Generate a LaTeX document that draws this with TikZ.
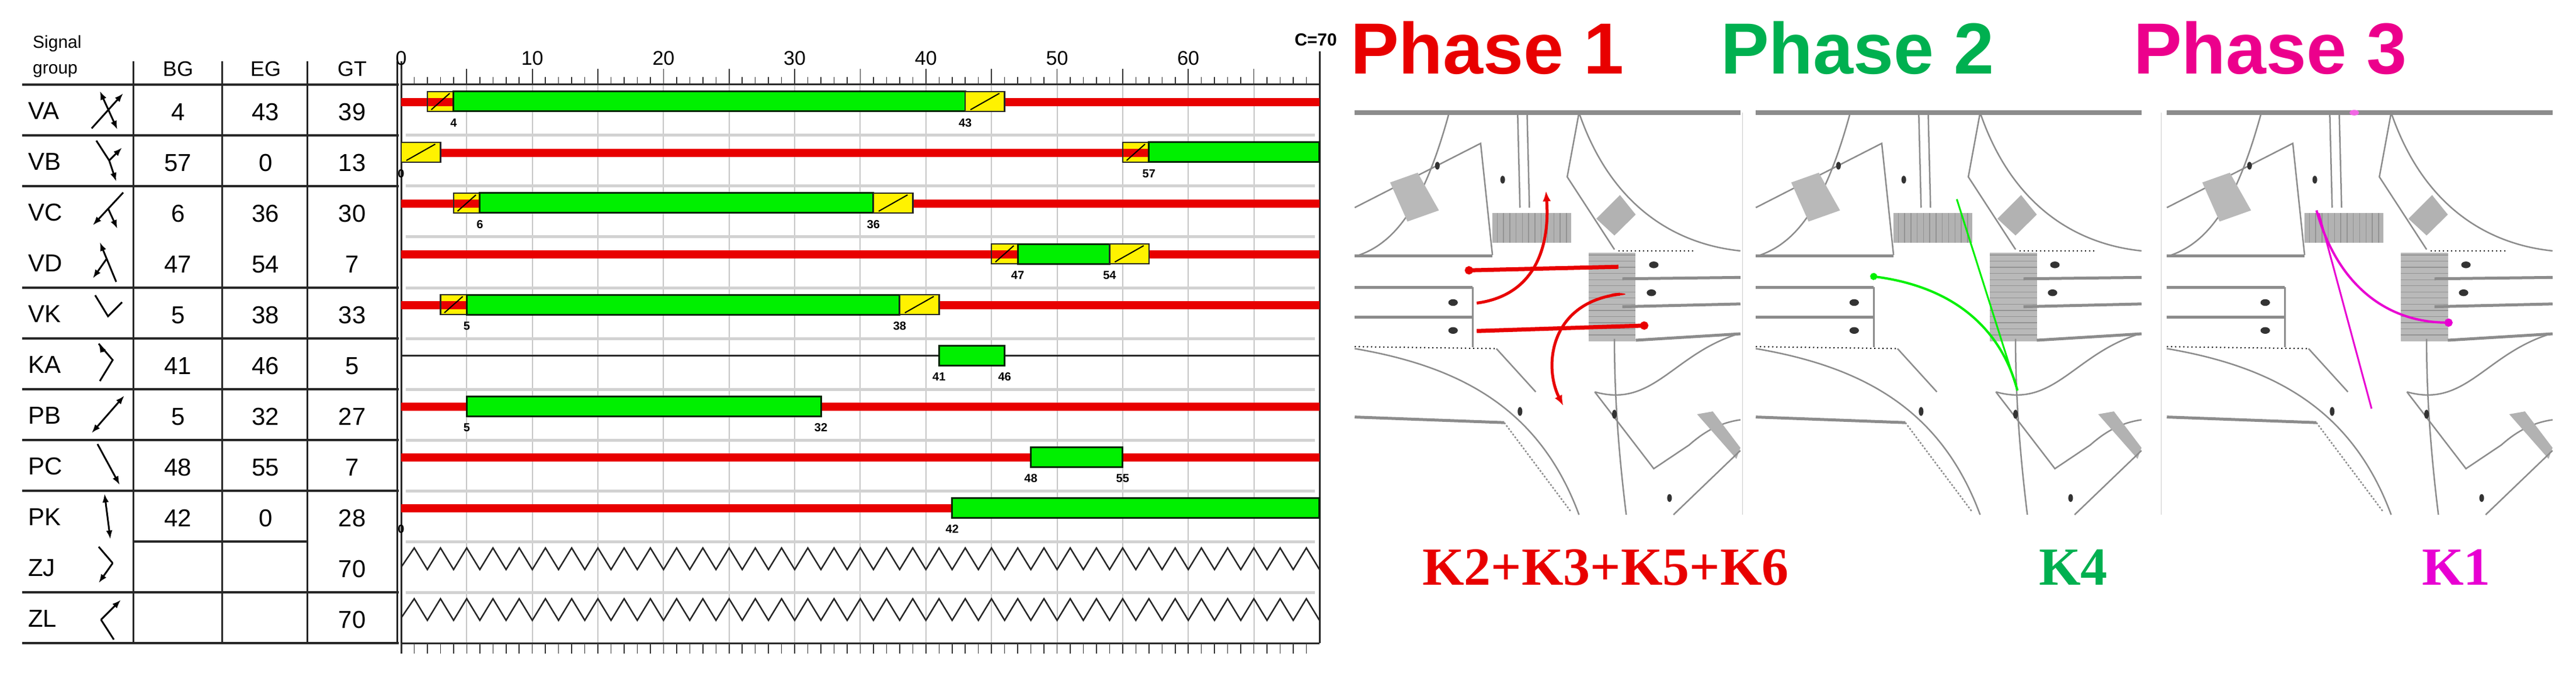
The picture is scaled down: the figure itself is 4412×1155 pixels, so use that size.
\documentclass[tikz,border=0pt]{standalone}
\usepackage{fontspec}
\setmainfont{Liberation Sans}
\newfontfamily\serifb{Liberation Serif}
\usetikzlibrary{arrows.meta}
\definecolor{sigred}{RGB}{232,0,0}
\definecolor{siggreen}{RGB}{0,240,0}
\definecolor{ph2}{RGB}{0,176,80}
\definecolor{ph3}{RGB}{236,0,140}
\definecolor{k1}{RGB}{232,0,210}
\definecolor{roadgray}{RGB}{140,140,140}
\tikzset{
 gbx/.style={fill=siggreen,draw=black!85!green,line width=3pt},
 abx/.style={fill=yellow,draw=black!85,line width=2.5pt},
 tlab/.style={font=\fontsize{20}{21}\selectfont\bfseries,inner sep=0pt},
 tbl/.style={font=\fontsize{42}{44}\selectfont,inner sep=0pt},
 hline/.style={line width=4pt,black!85},
 road/.style={roadgray,line width=2.5pt},
 bar/.style={roadgray,line width=8pt},
 sym/.style={line width=3pt,-{Latex[length=15pt,width=11pt]}},
 symd/.style={line width=3pt,{Latex[length=15pt,width=11pt]}-{Latex[length=15pt,width=11pt]}},
 symn/.style={line width=3pt}
}
\newcommand\X[1]{{687+22.47*(#1)}}
\newcommand\redseg[3]{\fill[sigred] (\X{#2},{#1+23}) rectangle (\X{#3},{#1+37});}
\newcommand\gbox[3]{\draw[gbx] (\X{#2},{#1+12}) rectangle (\X{#3},{#1+46});}
\newcommand\abox[3]{\draw[abx] (\X{#2},{#1+12}) rectangle (\X{#3},{#1+46});\draw[line width=2pt] (\X{#2+0.4},{#1+43}) -- (\X{#3-0.4},{#1+15});}
\newcommand\rabox[3]{\fill[yellow] (\X{#2},{#1+12}) rectangle (\X{#3},{#1+46});\fill[sigred] (\X{#2},{#1+23}) rectangle (\X{#3},{#1+37});\draw[black!85,line width=2.5pt] (\X{#2},{#1+12}) rectangle (\X{#3},{#1+46});\draw[line width=2pt] (\X{#2+0.3},{#1+43}) -- (\X{#3-0.3},{#1+15});}
\newcommand\tl[2]{\node[tlab] at (\X{#2},{#1+66}) {#2};}
\newcommand\junction{%
 \draw[bar] (15,90) -- (505,90);
 \draw[road] (135,90) .. controls (105,400) and (70,560) .. (15,605);
 \draw[road] (15,430) -- (175,200) -- (190,600);
 \fill[gray!55] (60,340) -- (95,305) -- (122,440) -- (82,480) -- cycle;
 \draw[bar,line width=5pt] (15,603) -- (190,603);
 \draw[road] (222,90) -- (225,430); \draw[road] (234,90) -- (237,430);
 \fill[black!80] (203,330) ellipse (3 and 14);
 \fill[black!80] (120,280) ellipse (3 and 14);
 \draw[road] (300,90) .. controls (340,420) and (420,560) .. (505,585);
 \draw[road] (300,90) -- (285,320) -- (345,580);
 \fill[gray!60] (190,450) rectangle (290,555);
 \foreach \i in {0,...,11} {\draw[gray!85,line width=1.4pt] ({196+\i*8},450) -- ({196+\i*8},555);}
 \fill[gray!60] (322,470) -- (352,385) -- (372,455) -- (345,530) -- cycle;
 \draw[line width=2pt,dash pattern=on 2pt off 5pt] (350,585) -- (445,585);
 \fill[gray!55] (312,592) rectangle (372,910);
 \foreach \i in {0,...,13} {\draw[gray!85,line width=1.4pt] (312,{600+\i*22}) -- (372,{600+\i*22});}
 \draw[bar,line width=5pt] (355,685) -- (505,680);
 \draw[bar,line width=5pt] (355,785) -- (505,775);
 \draw[bar,line width=5pt] (372,905) -- (505,882);
 \fill[black!80] (395,635) ellipse (6 and 12);
 \fill[black!80] (392,735) ellipse (6 and 12);
 \draw[bar,line width=5pt] (15,715) -- (165,715);
 \draw[bar,line width=5pt] (15,822) -- (165,822);
 \draw[road] (165,715) -- (165,930);
 \fill[black!80] (140,770) ellipse (6 and 12);
 \fill[black!80] (140,870) ellipse (6 and 12);
 \draw[line width=2pt,dash pattern=on 2pt off 5pt] (15,928) -- (195,935);
 \draw[road] (15,935) .. controls (150,1000) and (250,1150) .. (300,1530);
 \draw[road] (195,935) -- (245,1090);
 \draw[road,dashed] (205,1200) -- (290,1520);
 \draw[bar,line width=5pt] (15,1180) -- (205,1200);
 \fill[black!80] (225,1160) ellipse (3 and 16);
 \draw[road] (345,900) .. controls (345,1100) and (350,1300) .. (360,1530);
 \draw[road] (320,1090) -- (395,1365) -- (440,1280) .. controls (460,1230) and (480,1200) .. (505,1190);
 \draw[road] (505,880) .. controls (420,950) and (395,1150) .. (320,1090);
 \fill[black!80] (345,1170) ellipse (3 and 16);
 \fill[gray!60] (450,1170) -- (470,1160) -- (505,1290) -- (500,1330) -- cycle;
 \draw[road] (420,1530) -- (505,1300);
 \fill[black!80] (415,1470) ellipse (3 and 14);
}
\begin{document}
\begin{tikzpicture}[x=1pt,y=-1pt]
\useasboundingbox (0,0) rectangle (4412,1155);
\fill[white] (0,0) rectangle (4412,1155);
\node[anchor=west,font=\fontsize{30}{32}\selectfont,inner sep=0pt] (hs) at (56,75) {Signal};
\node[anchor=west,font=\fontsize{30}{32}\selectfont,inner sep=0pt] (hg) at (56,122) {group};
\node[tbl,font=\fontsize{36}{38}\selectfont] (hbg) at (305,118) {BG};
\node[tbl,font=\fontsize{36}{38}\selectfont] (heg) at (455,118) {EG};
\node[tbl,font=\fontsize{36}{38}\selectfont] (hgt) at (603,118) {GT};
\draw[hline] (38,145) -- (683,145);
\foreach \x in {228,380,526} {\draw[black!85,line width=3pt] (\x,105) -- (\x,1102);}
\draw[black!85,line width=3pt] (680,105) -- (680,1102);
\draw[black!85,line width=3pt] (687,105) -- (687,1120);
\foreach \i in {1,2,4,5,6,7,8,10} {\draw[hline] (38,{145+87*\i}) -- (683,{145+87*\i});}
\draw[hline] (228,{145+87*9}) -- (526,{145+87*9});
\foreach \n/\bg/\eg/\gt [count=\i from 0] in {VA/4/43/39,VB/57/0/13,VC/6/36/30,VD/47/54/7,VK/5/38/33,KA/41/46/5,PB/5/32/27,PC/48/55/7,PK/42/0/28,ZJ//{}/70,ZL//{}/70} {
  \node[tbl,anchor=west] (r\n) at (48,{145+87*\i+45}) {\n};
  \node[tbl] (bg\n) at (305,{145+87*\i+47}) {\bg};
  \node[tbl] (eg\n) at (455,{145+87*\i+47}) {\eg};
  \node[tbl] (gt\n) at (603,{145+87*\i+47}) {\gt};
}
\begin{scope}[shift={(185,188)}]
 \draw[sym] (-28,32) -- (26,-28); \draw[symd] (-14,-32) -- (16,34);
\end{scope}
\begin{scope}[shift={(185,275)}]
 \draw[symn] (-20,-34) -- (2,0); \draw[sym] (2,0) -- (24,-22); \draw[sym] (2,0) -- (14,36);
\end{scope}
\begin{scope}[shift={(185,362)}]
 \draw[sym] (26,-32) -- (-26,24); \draw[sym] (0,-5) -- (16,30);
\end{scope}
\begin{scope}[shift={(185,449)}]
 \draw[sym] (14,34) -- (-14,-34); \draw[sym] (-2,-6) -- (-26,28);
\end{scope}
\begin{scope}[shift={(185,530)}]
 \draw[symn] (-22,-24) -- (0,12) -- (24,-12);
\end{scope}
\begin{scope}[shift={(185,623)}]
 \draw[symn] (-16,-34) -- (8,-6) -- (-14,30); \draw[sym] (-8,-20) -- (-16,-34);
\end{scope}
\begin{scope}[shift={(185,710)}]
 \draw[symd] (-28,32) -- (28,-32);
\end{scope}
\begin{scope}[shift={(185,797)}]
 \draw[sym] (-18,-36) -- (20,34);
\end{scope}
\begin{scope}[shift={(185,884)}]
 \draw[symd] (-6,-38) -- (4,40);
\end{scope}
\begin{scope}[shift={(185,971)}]
 \draw[symn] (-16,-34) -- (8,-6); \draw[sym] (8,-6) -- (-16,28);
\end{scope}
\begin{scope}[shift={(185,1058)}]
 \draw[symn] (10,38) -- (-12,4); \draw[sym] (-12,4) -- (22,-30);
\end{scope}
\draw[hline] (38,1102) -- (683,1102);
\foreach \s in {5,10,...,65} {\draw[gray!45,line width=2pt] (\X{\s},145) -- (\X{\s},1102);}
\foreach \i in {1,...,10} {\draw[gray!35,line width=5pt] (695,{145+87*\i}) -- (2252,{145+87*\i});}
\draw[black!85,line width=3pt] (687,145) -- (2260,145);
\draw[black!85,line width=3pt] (2260,88) -- (2260,1102);
\draw[black!85,line width=3pt] (687,1102) -- (2260,1102);
\foreach \s in {0,...,69} {\draw[black!80,line width=1.5pt] (\X{\s},145) -- (\X{\s},132); \draw[black!80,line width=1.5pt] (\X{\s},1102) -- (\X{\s},1120);}
\foreach \s in {0,5,...,65} {\draw[black!80,line width=1.8pt] (\X{\s},145) -- (\X{\s},118);}
\foreach \s in {0,10,...,60} {\node[font=\fontsize{34}{36}\selectfont,inner sep=0pt] (ax\s) at (\X{\s},100) {\s};}
\node[font=\fontsize{30}{32}\selectfont\bfseries,anchor=east,inner sep=0pt] (cyc) at (2290,68) {C=70};
\def\T{145}
\redseg{\T}{0}{70}\rabox{\T}{2}{4}\gbox{\T}{4}{43}\abox{\T}{43}{46}\tl{\T}{4}\tl{\T}{43}
\def\T{232}
\redseg{\T}{0}{70}\abox{\T}{0}{3}\rabox{\T}{55}{57}\gbox{\T}{57}{70}\tl{\T}{0}\tl{\T}{57}
\def\T{319}
\redseg{\T}{0}{70}\rabox{\T}{4}{6}\gbox{\T}{6}{36}\abox{\T}{36}{39}\tl{\T}{6}\tl{\T}{36}
\def\T{406}
\redseg{\T}{0}{70}\rabox{\T}{45}{47}\gbox{\T}{47}{54}\abox{\T}{54}{57}\tl{\T}{47}\tl{\T}{54}
\def\T{493}
\redseg{\T}{0}{70}\rabox{\T}{3}{5}\gbox{\T}{5}{38}\abox{\T}{38}{41}\tl{\T}{5}\tl{\T}{38}
\def\T{580}
\draw[black!85,line width=3pt] (\X{0},609) -- (\X{70},609);\gbox{\T}{41}{46}\tl{\T}{41}\tl{\T}{46}
\def\T{667}
\redseg{\T}{0}{70}\gbox{\T}{5}{32}\tl{\T}{5}\tl{\T}{32}
\def\T{754}
\redseg{\T}{0}{70}\gbox{\T}{48}{55}\tl{\T}{48}\tl{\T}{55}
\def\T{841}
\redseg{\T}{0}{70}\gbox{\T}{42}{70}\tl{\T}{0}\tl{\T}{42}
\foreach \T in {928,1015} {
  \draw[black!85,line width=2.5pt,line join=miter] (\X{0},{\T+44}) \foreach \k in {0,...,34} { -- (\X{2*\k+1},{\T+11}) -- (\X{2*\k+2},{\T+48}) };
}
\node[anchor=base west,font=\fontsize{124}{130}\selectfont\bfseries,text=sigred,inner sep=0pt] (p1) at (2313,127) {Phase 1};
\node[anchor=base west,font=\fontsize{124}{130}\selectfont\bfseries,text=ph2,inner sep=0pt] (p2) at (2947,127) {Phase 2};
\node[anchor=base west,font=\fontsize{124}{130}\selectfont\bfseries,text=ph3,inner sep=0pt] (p3) at (3654,127) {Phase 3};
\begin{scope}[shift={(2300,150)},x=1.348pt,y=-0.4785pt]
 \begin{scope}\clip (15,75) rectangle (508,1535); \junction \end{scope}
 \begin{scope}\clip (508,75) rectangle (1040,1535); \begin{scope}[xshift=687pt]\junction\end{scope}\end{scope}
 \begin{scope}\clip (1040,75) rectangle (1540,1535); \begin{scope}[xshift=1391pt]\junction\end{scope}\end{scope}
 \draw[gray!40,line width=1pt] (508,90) -- (508,1530); \draw[gray!40,line width=1pt] (1040,90) -- (1040,1530);
 \draw[sigred,line width=7pt,{Circle[length=14pt]}-] (155,655) -- (350,642);
 \draw[sigred,line width=7pt,-{Circle[length=14pt]}] (170,872) -- (388,852);
 \draw[sigred,line width=5pt,-{Latex[length=18pt,width=14pt]}] (170,772) .. controls (255,740) and (262,520) .. (258,370);
 \draw[sigred,line width=5pt,-{Latex[length=18pt,width=14pt]}] (352,740) .. controls (262,770) and (255,1000) .. (280,1140);
 \fill[sigred] (350,740) circle (9 and 4);
 \draw[siggreen,line width=4pt,{Circle[length=12pt]}-] (670,675) .. controls (790,720) and (840,900) .. (857,1085);
 \draw[siggreen,line width=3pt] (780,400) -- (857,1085);
 \draw[k1,line width=4pt,-{Circle[length=14pt]}] (1237,440) .. controls (1265,720) and (1330,840) .. (1410,842);
 \draw[k1,line width=3pt] (1240,450) -- (1307,1150);
 \fill[k1!60] (1285,90) circle (6 and 10);
\end{scope}
\node[font=\fontsize{92}{96}\selectfont\serifb\bfseries,text=sigred,inner sep=0pt] (k2) at (2750,972) {K2+K3+K5+K6};
\node[font=\fontsize{92}{96}\selectfont\serifb\bfseries,text=ph2,inner sep=0pt] (k4) at (3551,972) {K4};
\node[font=\fontsize{92}{96}\selectfont\serifb\bfseries,text=k1,inner sep=0pt] (k1n) at (4207,972) {K1};
\end{tikzpicture}
\end{document}
